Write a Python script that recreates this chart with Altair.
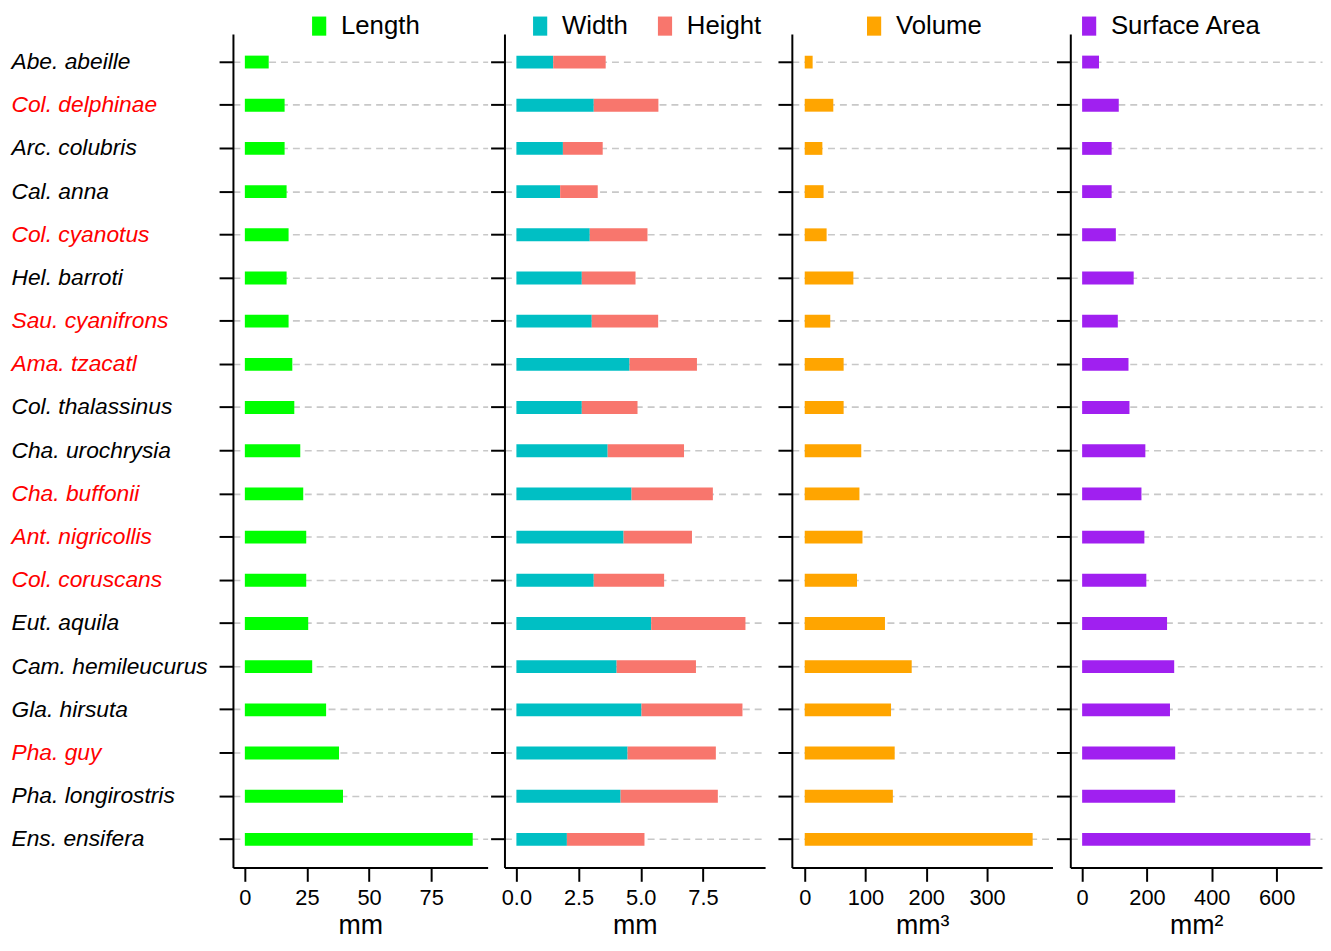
import json
import altair as alt
import pandas as pd

species = [
    "Abe. abeille", "Col. delphinae", "Arc. colubris", "Cal. anna", "Col. cyanotus",
    "Hel. barroti", "Sau. cyanifrons", "Ama. tzacatl", "Col. thalassinus",
    "Cha. urochrysia", "Cha. buffonii", "Ant. nigricollis", "Col. coruscans",
    "Eut. aquila", "Cam. hemileucurus", "Gla. hirsuta", "Pha. guy",
    "Pha. longirostris", "Ens. ensifera",
]
red_species = [
    "Col. delphinae", "Col. cyanotus", "Sau. cyanifrons", "Ama. tzacatl",
    "Cha. buffonii", "Ant. nigricollis", "Col. coruscans", "Pha. guy",
]
length_mm = [9.6, 16.0, 16.0, 16.8, 17.6, 16.8, 17.6, 19.1, 19.9, 22.3, 23.5, 24.7, 24.7,
             25.5, 27.1, 32.7, 37.9, 39.5, 91.7]
width_mm = [1.48, 3.11, 1.87, 1.76, 2.95, 2.63, 3.03, 4.55, 2.63, 3.67, 4.63, 4.31, 3.11,
            5.42, 4.03, 5.03, 4.47, 4.19, 2.03]
height_mm = [2.11, 2.60, 1.60, 1.51, 2.32, 2.16, 2.67, 2.71, 2.24, 3.07, 3.27, 2.75, 2.83,
             3.79, 3.19, 4.06, 3.55, 3.91, 3.12]
volume_mm3 = [13, 47, 29, 31, 36, 80, 42, 64, 64, 93, 90, 95, 86, 132, 176, 142, 148, 145, 375]
surface_mm2 = [52, 113, 91, 91, 104, 159, 110, 143, 146, 195, 183, 192, 198, 262, 284, 271,
               287, 287, 704]

FONT = "Liberation Sans"
GRID = "#C8C8C8"
PLOT_H = 841
RECT = "M-0.715,-0.965L0.715,-0.965L0.715,0.965L-0.715,0.965Z"

y_scale = alt.Scale(domain=species, paddingInner=0.7025, paddingOuter=0.5)
red_test = "indexof(" + json.dumps(red_species) + ", datum.value) >= 0"


def y_enc(show_labels):
    common = dict(
        title=None, ticks=True, tickSize=14, tickWidth=2, tickColor="black",
        domain=True, domainWidth=2, domainColor="black",
        grid=True, gridColor=GRID, gridDash=[7, 5], gridWidth=1.6,
    )
    if show_labels:
        axis = alt.Axis(
            labels=True, labelAlign="left", labelPadding=210, labelFont=FONT,
            labelFontSize=23, labelFontStyle="italic", labelLimit=400,
            labelColor={"condition": {"test": red_test, "value": "red"}, "value": "black"},
            **common,
        )
    else:
        axis = alt.Axis(labels=False, **common)
    return alt.Y("species:N", scale=y_scale, axis=axis)


def x_enc(domain, values, fmt, title, stack=None):
    axis = alt.Axis(
        values=values, format=fmt, title=title, grid=False,
        domain=True, domainWidth=2, domainColor="black",
        ticks=True, tickSize=14, tickWidth=2, tickColor="black",
        labelFont=FONT, labelFontSize=22, labelColor="black", labelPadding=6,
        labelFlush=False, labelOverlap=False,
        titleFont=FONT, titleFontSize=27, titleFontWeight="normal",
        titleColor="black", titlePadding=5,
    )
    kw = {}
    if stack is not None:
        kw["stack"] = stack
    return alt.X("value:Q", scale=alt.Scale(domain=domain, nice=False, zero=False),
                 axis=axis, **kw)


def legend(x, y=-21, col_pad=24):
    return alt.Legend(
        title=None, orient="none", legendX=x, legendY=y, direction="horizontal",
        symbolType=RECT, symbolSize=400, symbolStrokeWidth=0, symbolOpacity=1,
        labelFont=FONT, labelFontSize=26, labelColor="black", labelOffset=9,
        columnPadding=col_pad, padding=0,
    )


df1 = pd.DataFrame({"species": species, "value": length_mm, "measure": "Length"})
rows = []
for s, w, h in zip(species, width_mm, height_mm):
    rows.append({"species": s, "value": w, "measure": "Width", "ord": 0})
    rows.append({"species": s, "value": h, "measure": "Height", "ord": 1})
df2 = pd.DataFrame(rows)
df3 = pd.DataFrame({"species": species, "value": volume_mm3, "measure": "Volume"})
df4 = pd.DataFrame({"species": species, "value": surface_mm2, "measure": "Surface Area"})

p1 = alt.Chart(df1).mark_bar().encode(
    x=x_enc([-4.79, 97.7], [0, 25, 50, 75], "d", "mm"),
    y=y_enc(True),
    color=alt.Color("measure:N", scale=alt.Scale(domain=["Length"], range=["#00FF00"]),
                    legend=legend(74)),
).properties(width=257, height=PLOT_H)

p2 = alt.Chart(df2).mark_bar().encode(
    x=x_enc([-0.48, 10.0], [0, 2.5, 5, 7.5], ".1f", "mm", stack="zero"),
    y=y_enc(False),
    color=alt.Color("measure:N",
                    scale=alt.Scale(domain=["Width", "Height"], range=["#00BFC4", "#F8766D"]),
                    legend=legend(23)),
    order=alt.Order("ord:Q"),
).properties(width=263, height=PLOT_H)

p3 = alt.Chart(df3).mark_bar().encode(
    x=x_enc([-21.2, 407.6], [0, 100, 200, 300], "d", "mm³"),
    y=y_enc(False),
    color=alt.Color("measure:N", scale=alt.Scale(domain=["Volume"], range=["#FFA500"]),
                    legend=legend(70)),
).properties(width=263, height=PLOT_H)

p4 = alt.Chart(df4).mark_bar().encode(
    x=x_enc([-36.5, 740], [0, 200, 400, 600], "d", "mm²"),
    y=y_enc(False),
    color=alt.Color("measure:N", scale=alt.Scale(domain=["Surface Area"], range=["#A020F0"]),
                    legend=legend(6)),
).properties(width=254, height=PLOT_H)


def ind(c):
    return c.resolve_scale(color="independent", x="independent").resolve_legend(color="independent")


left = ind(alt.hconcat(p1, p2, spacing=0))
right = ind(alt.hconcat(p3, p4, spacing=1))
chart = ind(alt.hconcat(left, right, spacing=10)).properties(
    padding={"left": 2, "top": 0, "right": 0, "bottom": 0}
).configure(font=FONT).configure_view(stroke="transparent")

chart.save("out.html", embed_options={"renderer": "svg", "actions": False})
